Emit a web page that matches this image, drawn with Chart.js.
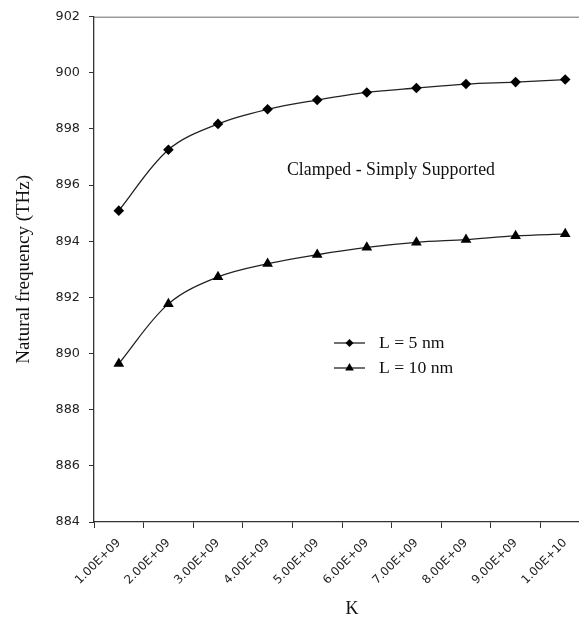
<!DOCTYPE html>
<html>
<head>
<meta charset="utf-8">
<script src="https://cdn.jsdelivr.net/npm/chart.js@4.4.1/dist/chart.umd.min.js"></script>
<style>
  html, body { margin: 0; padding: 0; overflow: hidden; background: #fff; }
  #wrap { width: 600px; height: 621px; }
</style>
</head>
<body>
<div id="wrap"><canvas id="freqChart" width="600" height="621"></canvas></div>
<script>
// stiffness K categories and natural frequency (THz) for two lengths
const kLabels = ["1.00E+09", "2.00E+09", "3.00E+09", "4.00E+09", "5.00E+09",
  "6.00E+09", "7.00E+09", "8.00E+09", "9.00E+09", "1.00E+10"];
const freqL5 = [895.09, 897.26, 898.18, 898.70, 899.03, 899.30, 899.46, 899.60, 899.67, 899.76];
const freqL10 = [889.64, 891.77, 892.73, 893.20, 893.52, 893.78, 893.96, 894.06, 894.19, 894.26];
const yMin = 884;
const yMax = 902;
const yStep = 2;

const serif = "'Liberation Serif', 'Times New Roman', serif";
const sans = "'DejaVu Sans', Verdana, sans-serif";

// top frame line, annotation, K title and the inline legend
const extras = {
  id: "extras",
  afterDraw(chart) {
    const { ctx, chartArea } = chart;
    ctx.save();
    ctx.strokeStyle = "#6a6a6a";
    ctx.lineWidth = 1;
    ctx.beginPath();
    ctx.moveTo(chartArea.left, chartArea.top + 0.5);
    ctx.lineTo(chartArea.right, chartArea.top + 0.5);
    ctx.stroke();

    ctx.fillStyle = "#111";
    ctx.font = "17.8px " + serif;
    ctx.textBaseline = "middle";
    ctx.textAlign = "left";
    ctx.fillText("Clamped - Simply Supported", 287, 170);

    ctx.font = "18px " + serif;
    ctx.textAlign = "center";
    ctx.fillText("K", 352, 609);

    // legend
    ctx.font = "17.7px " + serif;
    ctx.textAlign = "left";
    chart.data.datasets.forEach((ds, i) => {
      const y = 343 + i * 25;
      ctx.strokeStyle = "#111";
      ctx.lineWidth = 1.2;
      ctx.beginPath();
      ctx.moveTo(334, y);
      ctx.lineTo(365, y);
      ctx.stroke();
      ctx.fillStyle = "#000";
      Chart.helpers.drawPoint(ctx, {
        pointStyle: ds.pointStyle,
        radius: ds.legendRadius,
        rotation: 0,
        borderWidth: 0,
      }, 349.5, y);
      ctx.fillStyle = "#111";
      ctx.fillText(ds.label, 379, y);
    });
    ctx.restore();
  },
};

const ctx = document.getElementById("freqChart").getContext("2d");

new Chart(ctx, {
  type: "line",
  data: {
    labels: kLabels,
    datasets: [
      {
        label: "L = 5 nm",
        data: freqL5,
        borderColor: "#222",
        borderWidth: 1.3,
        pointStyle: "rectRot",
        pointRadius: 5.3,
        legendRadius: 4,
        pointBackgroundColor: "#000",
        pointBorderColor: "#000",
        pointBorderWidth: 0,
        tension: 0.35,
      },
      {
        label: "L = 10 nm",
        data: freqL10,
        borderColor: "#222",
        borderWidth: 1.3,
        pointStyle: "triangle",
        pointRadius: 6.2,
        legendRadius: 5,
        pointBackgroundColor: "#000",
        pointBorderColor: "#000",
        pointBorderWidth: 0,
        tension: 0.35,
      },
    ],
  },
  options: {
    responsive: false,
    animation: false,
    layout: { padding: { top: 12, right: 10, left: 0, bottom: 0 } },
    plugins: {
      legend: { display: false },
      tooltip: { enabled: false },
    },
    scales: {
      x: {
        offset: true,
        grid: {
          offset: true,
          drawOnChartArea: false,
          tickLength: 6,
          color: "#333",
        },
        border: { color: "#333", width: 1.3 },
        ticks: {
          minRotation: 45,
          maxRotation: 45,
          padding: 8,
          color: "#222",
          font: { family: sans, size: 11.8 },
        },
        afterFit: (scale) => { scale.height = 99; },
      },
      y: {
        min: yMin,
        max: yMax,
        grid: {
          drawOnChartArea: false,
          tickLength: 5,
          color: "#333",
        },
        border: { color: "#333", width: 1.3 },
        ticks: {
          stepSize: yStep,
          padding: 9,
          color: "#222",
          font: { family: sans, size: 12.8 },
        },
        title: {
          display: true,
          text: "Natural frequency (THz)",
          color: "#111",
          font: { family: serif, size: 19 },
          padding: { top: 13, bottom: 0 },
        },
        afterFit: (scale) => { scale.width = 94; },
      },
    },
  },
  plugins: [extras],
});
</script>
</body>
</html>
